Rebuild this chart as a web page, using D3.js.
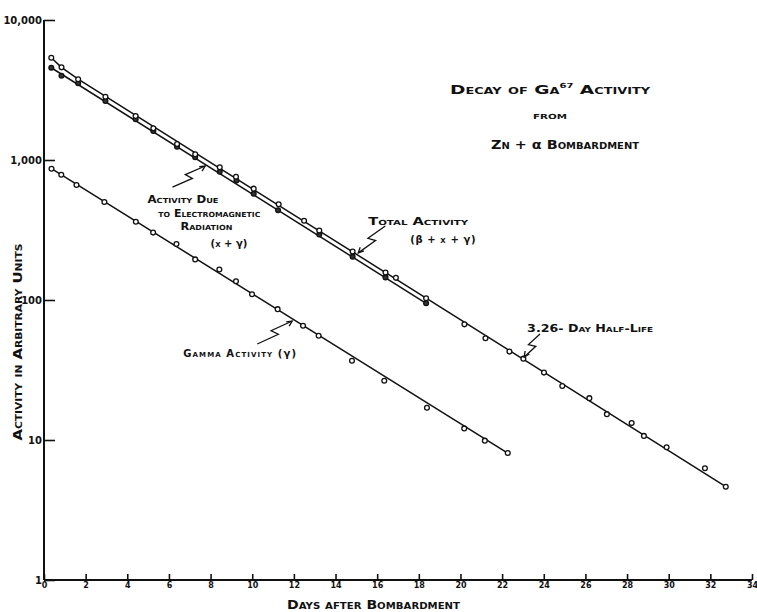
<!DOCTYPE html>
<html>
<head>
<meta charset="utf-8">
<script src="https://cdn.jsdelivr.net/npm/d3@7"></script>
<style>
  html, body { margin: 0; padding: 0; background: #fff; }
  svg { display: block; }
  text { font-family: "DejaVu Sans", sans-serif; fill: #111; }
  .sc { font-variant: small-caps; font-weight: bold; }
  .gr { font-variant: normal; font-weight: bold; }
</style>
</head>
<body>
<svg id="chart" width="757" height="612"></svg>
<script>
// ---------------- data ----------------
const xTicks = [0, 2, 4, 6, 8, 10, 12, 14, 16, 18, 20, 22, 24, 26, 28, 30, 32, 34];
const yTicks = [1, 10, 100, 1000, 10000];
const yTickLabels = ["1", "10", "100", "1,000", "10,000"];

// Total activity (beta + x + gamma), open circles
const totalDays = [0.35, 0.84, 1.64, 2.95, 4.40, 5.25, 6.39, 7.26, 8.44, 9.22, 10.07, 11.27,
  12.49, 13.22, 14.82, 16.40, 16.90, 18.35, 20.19, 21.20, 22.35, 23.02, 24.01, 24.89,
  26.19, 27.03, 28.22, 28.81, 29.90, 31.74, 32.74];
const totalValues = [5380, 4590, 3770, 2830, 2060, 1685, 1301, 1098, 887, 760, 624, 482,
  368, 313, 222, 157, 144, 103, 67, 53.3, 42.8, 38.1, 30.3, 24.3,
  19.9, 15.3, 13.2, 10.7, 8.87, 6.28, 4.64];

// Activity due to electromagnetic radiation (x + gamma), dark circles
const emDays = [0.35, 0.84, 1.64, 2.95, 4.40, 5.25, 6.39, 7.26, 8.44, 9.24, 10.07, 11.24,
  13.22, 14.82, 16.40, 18.35];
const emValues = [4560, 4000, 3530, 2640, 1953, 1610, 1244, 1045, 825, 714, 574, 438,
  294, 204, 145, 94.7];

// Gamma activity, open circles
const gammaDays = [0.36, 0.83, 1.56, 2.90, 4.41, 5.24, 6.36, 7.26, 8.42, 9.22, 9.99, 11.22,
  12.44, 13.19, 14.79, 16.34, 18.39, 20.18, 21.17, 22.27];
const gammaValues = [867, 785, 663, 501, 362, 303, 251, 195, 165, 136, 110, 86,
  65.4, 55.6, 36.8, 26.5, 17.0, 12.1, 9.89, 8.07];

// Fitted lines
const totalFitDays = [0.35, 0.84, 1.64, 32.74];
const totalFitValues = [5380, 4590, 3780, 4.64];
const emFitDays = [0.35, 18.35];
const emFitValues = [4560, 94.7];
const gammaFitDays = [0.36, 22.27];
const gammaFitValues = [867, 8.07];

// Annotations (in data units: day, activity)
const labelTexts = ["Activity Due", "to Electromagnetic", "Radiation", "(x + γ)",
  "Total Activity", "(β + x + γ)", "Gamma Activity (γ)", "3.26- Day Half-Life"];
const labelDays = [4.97, 5.49, 6.55, 8.0, 15.57, 17.59, 6.69, 23.2];
const labelValues = [493, 392, 316, 240, 343, 255, 39.2, 59.1];
const labelWidths = [71, 102, 52, 0, 100, 0, 0, 126];
const labelSpacing = [0, 0, 0, 0, 0, 0.6, 1.1, 0];

const arrowTailDays = [6.17, 16.39, 10.24, 23.82];
const arrowTailValues = [641, 338, 48.5, 57.2];
const arrowHeadDays = [7.74, 15.09, 11.92, 23.06];
const arrowHeadValues = [906, 217, 70.8, 39.2];

// ---------------- chart ----------------
const svg = d3.select("#chart");
const x = d3.scaleLinear().domain([0, 34]).range([44, 752]);
const y = d3.scaleLog().domain([1, 10000]).range([580, 20]);

const ink = "#111";

// small-caps text with Greek letters kept lowercase
function scText(sel, str) {
  str.split(/([α-ω])/).forEach(part => {
    if (!part) return;
    const t = sel.append("tspan").text(part);
    if (/^[α-ω]$/.test(part)) t.attr("class", "gr");
  });
  return sel;
}

// Axes
const xAxis = d3.axisBottom(x).tickValues(xTicks).tickSize(-6).tickPadding(4).tickFormat(d3.format("d"));
const gx = svg.append("g").attr("transform", "translate(0,580)").call(xAxis);
gx.select(".domain").attr("stroke", ink).attr("stroke-width", 2).attr("d", "M44,0H752");
gx.selectAll(".tick line").attr("stroke", ink).attr("stroke-width", 1.6);
gx.selectAll(".tick text").attr("font-family", "Liberation Sans, sans-serif")
  .attr("font-weight", "bold").attr("font-size", 8).attr("fill", ink).attr("dy", "0.55em");

const yAxis = d3.axisLeft(y).tickValues(yTicks).tickSize(-11).tickPadding(2)
  .tickFormat((d, i) => yTickLabels[i]);
const gy = svg.append("g").attr("transform", "translate(44,0)").call(yAxis);
gy.select(".domain").attr("stroke", ink).attr("stroke-width", 2).attr("d", "M0,20V580");
gy.selectAll(".tick line").attr("stroke", ink).attr("stroke-width", 1.6);
gy.selectAll(".tick text").attr("font-family", "Liberation Sans, sans-serif")
  .attr("font-weight", "bold").attr("font-size", 10).attr("fill", ink).attr("x", -2);

// Lines
const line = d3.line().x(d => x(d[0])).y(d => y(d[1]));
function drawLine(days, vals) {
  svg.append("path").datum(days.map((d, i) => [d, vals[i]]))
    .attr("d", line).attr("fill", "none").attr("stroke", ink).attr("stroke-width", 1.5);
}
drawLine(totalFitDays, totalFitValues);
drawLine(emFitDays, emFitValues);
drawLine(gammaFitDays, gammaFitValues);

// Points
function drawPoints(days, vals, fill, sw) {
  svg.append("g").selectAll("circle").data(days.map((d, i) => [d, vals[i]])).join("circle")
    .attr("cx", d => x(d[0])).attr("cy", d => y(d[1])).attr("r", 2.4)
    .attr("fill", fill).attr("stroke", ink).attr("stroke-width", sw);
}
drawPoints(emDays, emValues, "#333", 1.3);
drawPoints(totalDays, totalValues, "#fff", 1.3);
drawPoints(gammaDays, gammaValues, "#fff", 1.3);

// Annotation labels
labelTexts.forEach((t, i) => {
  const el = svg.append("text").attr("class", "sc")
    .attr("x", x(labelDays[i])).attr("y", y(labelValues[i]))
    .attr("font-size", 10);
  if (labelWidths[i]) el.attr("textLength", labelWidths[i]).attr("lengthAdjust", "spacingAndGlyphs");
  if (labelSpacing[i]) el.attr("letter-spacing", labelSpacing[i]);
  scText(el, t);
});

// Zig-zag arrows
arrowTailDays.forEach((_, i) => {
  const tx = x(arrowTailDays[i]), ty = y(arrowTailValues[i]);
  const hx = x(arrowHeadDays[i]), hy = y(arrowHeadValues[i]);
  const dx = hx - tx, dy = hy - ty, L = Math.hypot(dx, dy);
  const ux = dx / L, uy = dy / L, nx = -uy, ny = ux;
  const a = [tx + dx * 0.55 + nx * 3.5, ty + dy * 0.55 + ny * 3.5];
  const b = [tx + dx * 0.45 - nx * 3.5, ty + dy * 0.45 - ny * 3.5];
  svg.append("path")
    .attr("d", d3.line()([[tx, ty], a, b, [hx, hy]]))
    .attr("fill", "none").attr("stroke", ink).attr("stroke-width", 1.3);
  const ah = 6, ang = 0.45;
  const back = Math.atan2(-uy, -ux);
  const p1 = [hx + ah * Math.cos(back + ang), hy + ah * Math.sin(back + ang)];
  const p2 = [hx + ah * Math.cos(back - ang), hy + ah * Math.sin(back - ang)];
  svg.append("path").attr("d", d3.line()([p1, [hx, hy], p2]))
    .attr("fill", "none").attr("stroke", ink).attr("stroke-width", 1.3);
});

// Title
const title1 = svg.append("text").attr("class", "sc").attr("x", 450).attr("y", 94)
  .attr("font-size", 13);
title1.append("tspan").text("Decay of Ga");
title1.append("tspan").attr("font-size", 7).attr("dy", -6).text("67");
title1.append("tspan").attr("dy", 6).text(" Activity");
title1.attr("textLength", 200).attr("lengthAdjust", "spacingAndGlyphs");

svg.append("text").attr("class", "sc").attr("x", 533).attr("y", 119)
  .attr("font-size", 10).attr("textLength", 34).attr("lengthAdjust", "spacingAndGlyphs").text("from");
scText(svg.append("text").attr("class", "sc").attr("x", 491).attr("y", 149)
  .attr("font-size", 13).attr("textLength", 148).attr("lengthAdjust", "spacingAndGlyphs"),
  "Zn + α Bombardment");

// Axis titles
svg.append("text").attr("class", "sc").attr("text-anchor", "middle")
  .attr("transform", "translate(22,342) rotate(-90)")
  .attr("font-size", 12.5).attr("textLength", 197).attr("lengthAdjust", "spacingAndGlyphs")
  .text("Activity in Arbitrary Units");
svg.append("text").attr("class", "sc").attr("text-anchor", "middle")
  .attr("x", 373.5).attr("y", 609)
  .attr("font-size", 12.5).attr("textLength", 173).attr("lengthAdjust", "spacingAndGlyphs")
  .text("Days after Bombardment");
</script>
</body>
</html>
